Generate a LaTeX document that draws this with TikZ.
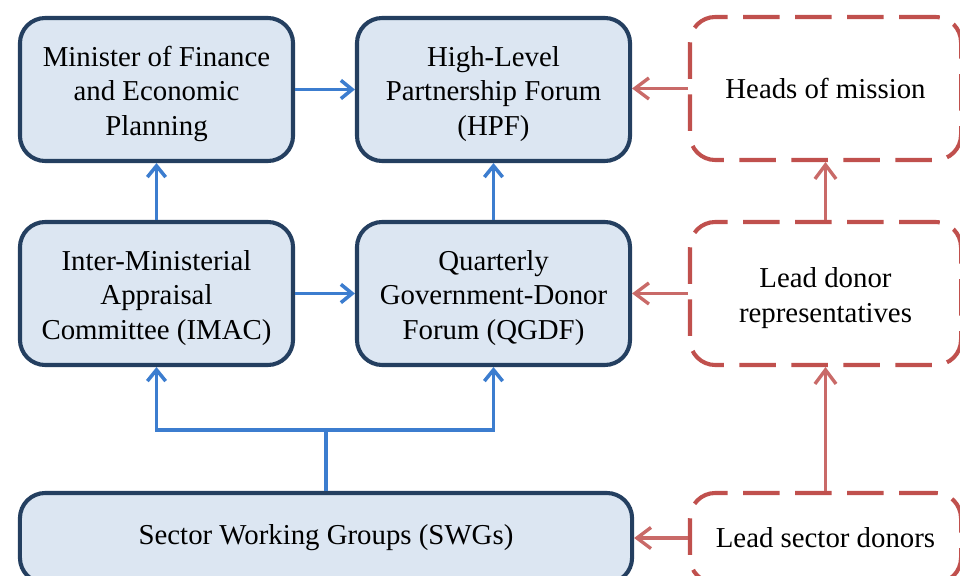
\documentclass[tikz,border=0pt]{standalone}
\usepackage{fontspec}
\setmainfont{Liberation Serif}
\usetikzlibrary{arrows.meta}
\definecolor{boxfill}{HTML}{DCE6F2}
\definecolor{boxline}{HTML}{243F60}
\definecolor{govblue}{HTML}{3C7DCF}
\definecolor{donorred}{HTML}{C0504D}
\newcommand{\topgap}{\rule{0pt}{20.5pt}}
\begin{document}
\begin{tikzpicture}[x=0.025cm, y=-0.025cm,
  govbox/.style={draw=boxline, line width=2.9pt, fill=boxfill, rounded corners=18pt,
    align=center, minimum width=6.825cm, minimum height=3.575cm,
    font=\fontsize{20.5}{24.5}\selectfont},
  donorbox/.style={draw=donorred, line width=2.9pt, dash pattern=on 26pt off 11pt,
    rounded corners=18pt, align=center, minimum width=6.775cm, minimum height=3.575cm,
    font=\fontsize{20.5}{24.5}\selectfont},
  govarrow/.style={draw=govblue, line width=2.5pt, -{Straight Barb[length=8pt,width=13pt]}},
  donorarrow/.style={draw=donorred!85!white, line width=2.4pt, -{Straight Barb[length=10pt,width=15pt]}}]
\useasboundingbox (0,0) rectangle (960,576);
\clip (0,0) rectangle (960,576);
% government side
\node[govbox] (mof) at (156.5,89.5) {\topgap Minister of Finance\\and Economic\\Planning};
\node[govbox] (hpf) at (493.5,89.5) {\topgap High-Level\\Partnership Forum\\(HPF)};
\node[govbox] (imac) at (156.5,293.5) {\topgap Inter-Ministerial\\Appraisal\\Committee (IMAC)};
\node[govbox] (qgdf) at (493.5,293.5) {\topgap Quarterly\\Government-Donor\\Forum (QGDF)};
\node[govbox, minimum width=15.3cm, minimum height=2.25cm] (swg) at (326,538) {Sector Working Groups (SWGs)};
% donor side
\node[donorbox] (hom) at (825.5,88.5) {Heads of mission};
\node[donorbox] (ldr) at (825.5,293.5) {\topgap Lead donor\\representatives};
\node[donorbox, minimum height=2.25cm] (lsd) at (825.5,538) {Lead sector donors};
\coordinate (split) at (326,430);
\draw[govarrow] (mof) -- (hpf);
\draw[govarrow] (imac) -- (mof);
\draw[govarrow] (qgdf) -- (hpf);
\draw[govarrow] (imac) -- (qgdf);
\draw[govblue, line width=2.5pt] (swg.north) -- (split);
\draw[govarrow] (split) -| (imac.south);
\draw[govarrow] (split) -| (qgdf.south);
\draw[donorarrow] (hom.west) -- (hom.west -| hpf.east);
\draw[donorarrow] (ldr) -- (qgdf);
\draw[donorarrow] (lsd) -- (swg.east |- lsd);
\draw[donorarrow] (ldr) -- (hom);
\draw[donorarrow] (lsd) -- (ldr);
\end{tikzpicture}
\end{document}
